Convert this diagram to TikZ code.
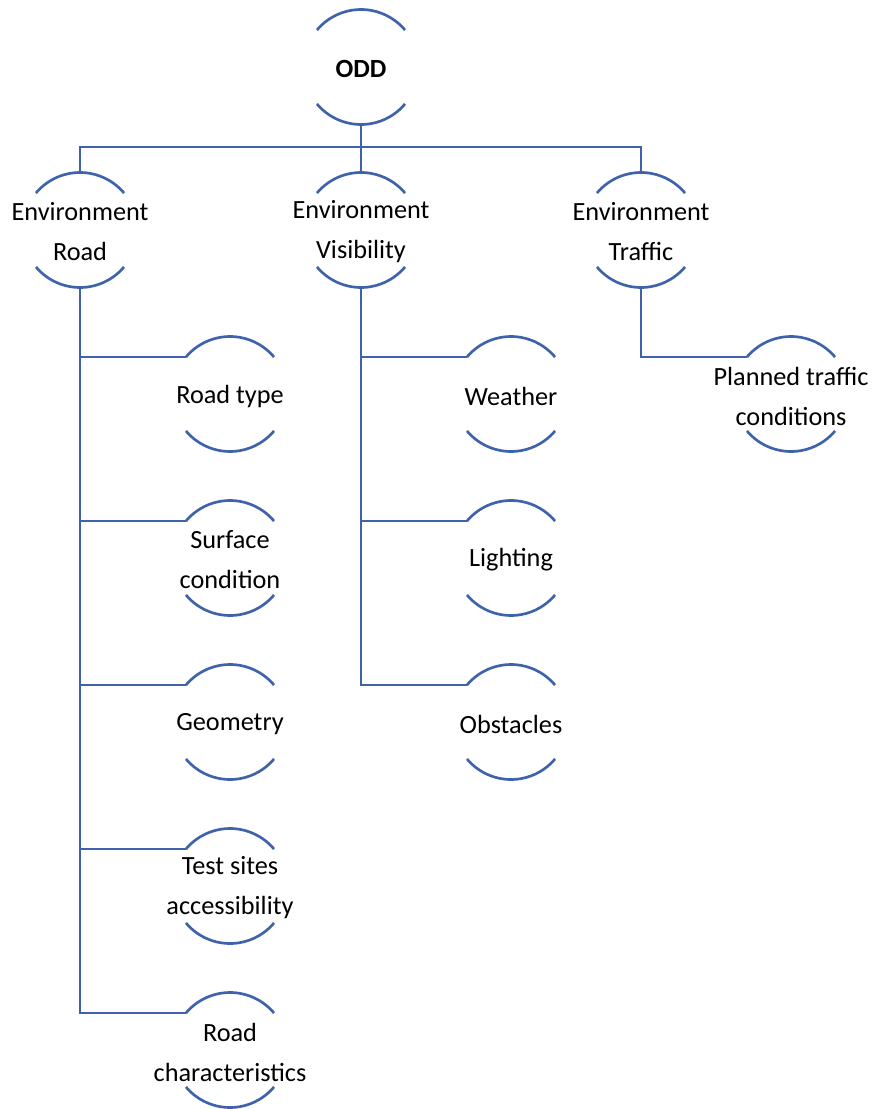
\documentclass[tikz,border=0pt]{standalone}
\usepackage{fontspec}
\setmainfont{Carlito}
\begin{document}
\begin{tikzpicture}[x=0.75pt,y=-0.75pt,
  ring/.style={circle,minimum size=86.25pt,inner sep=0pt,outer sep=0pt},
  txt/.style={align=center,inner sep=0pt,yshift=-1.5pt,font=\fontsize{19.7}{30}\selectfont,text=black},
  wire/.style={draw=linkblue,line width=2pt}]
\definecolor{linkblue}{RGB}{62,99,170}
\useasboundingbox (0,0) rectangle (876,1109);

% node circles (only their upper and lower arcs are drawn)
\node[ring] (odd) at (361,67) {};
\node[ring] (road) at (80,230) {};
\node[ring] (vis) at (361,230) {};
\node[ring] (traf) at (641,230) {};
\node[ring] (rtype) at (230,394) {};
\node[ring] (surf) at (230,558) {};
\node[ring] (geom) at (230,722) {};
\node[ring] (test) at (230,886) {};
\node[ring] (rchar) at (230,1050) {};
\node[ring] (weather) at (511,394) {};
\node[ring] (light) at (511,558) {};
\node[ring] (obst) at (511,722) {};
\node[ring] (plan) at (791,394) {};

% labels
\node[txt,font=\fontsize{19.7}{30}\selectfont\bfseries] (odd-t) at (odd) {ODD};
\node[txt] (road-t) at (road) {Environment\\Road};
\node[txt] (vis-t) at (vis) {Environment\\Visibility};
\node[txt] (traf-t) at (traf) {Environment\\Traffic};
\node[txt] (rtype-t) at (rtype) {Road type};
\node[txt] (surf-t) at (surf) {Surface\\condition};
\node[txt] (geom-t) at (geom) {Geometry};
\node[txt] (test-t) at (test) {Test sites\\accessibility};
\node[txt] (rchar-t) at (rchar) {Road\\characteristics};
\node[txt] (weather-t) at (weather) {Weather};
\node[txt] (light-t) at (light) {Lighting};
\node[txt] (obst-t) at (obst) {Obstacles};
\node[txt] (plan-t) at (plan) {Planned traffic\\conditions};

% arcs above and below each label
\foreach \n in {odd,road,vis,traf,rtype,surf,geom,test,rchar,weather,light,obst,plan}{
  \draw[wire] (\n.140) arc[start angle=140,end angle=40,radius=43.125pt];
  \draw[wire] (\n.-140) arc[start angle=-140,end angle=-40,radius=43.125pt];
}

% top level bus
\coordinate (bus) at (361,147);
\draw[wire] (odd.south) -- (bus);
\draw[wire] (road.north) |- (bus) -| (traf.north);
\draw[wire] (vis.north) -- (bus);

% branches
\foreach \c in {rtype,surf,geom,test,rchar}
  \draw[wire] (road.south) |- (\c.140);
\foreach \c in {weather,light,obst}
  \draw[wire] (vis.south) |- (\c.140);
\draw[wire] (traf.south) |- (plan.140);
\end{tikzpicture}
\end{document}
